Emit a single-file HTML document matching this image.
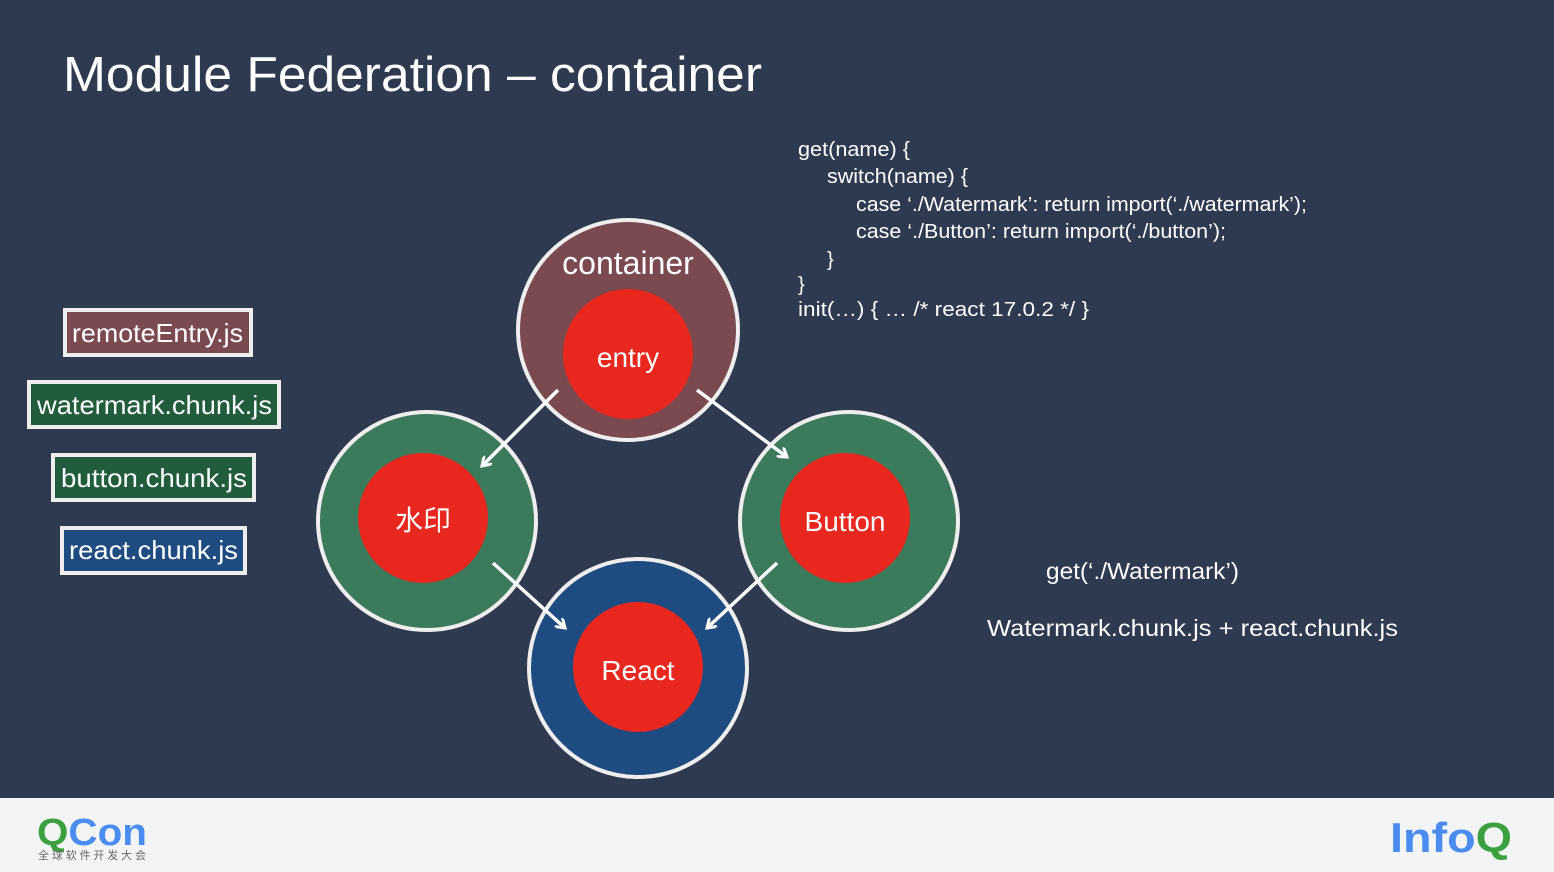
<!DOCTYPE html>
<html><head><meta charset="utf-8"><style>
body{margin:0;width:1554px;height:872px;overflow:hidden;background:#2d3a50;font-family:"Liberation Sans","Noto Sans CJK SC",sans-serif}
</style></head><body>
<svg width="1554" height="872" xmlns="http://www.w3.org/2000/svg" style="position:absolute;left:0;top:0;font-family:'Liberation Sans','Noto Sans CJK SC',sans-serif">
<defs><marker id="a" markerWidth="12" markerHeight="12" refX="9" refY="6" orient="auto" markerUnits="userSpaceOnUse"><path d="M0,0 L9,6 L0,12" fill="none" stroke="#fff" stroke-width="3"/></marker></defs>
<rect width="1554" height="798" fill="#2d3a50"/>
<rect y="798" width="1554" height="74" fill="#f3f4f6"/>
<text x="63" y="91" fill="#fff" font-size="49" textLength="699" lengthAdjust="spacingAndGlyphs">Module Federation – container</text>
<g font-size="20" fill="#fff">
<text x="798" y="156" textLength="112" lengthAdjust="spacingAndGlyphs">get(name) {</text>
<text x="827" y="183" textLength="141" lengthAdjust="spacingAndGlyphs">switch(name) {</text>
<text x="856" y="211" textLength="451" lengthAdjust="spacingAndGlyphs">case ‘./Watermark’: return import(‘./watermark’);</text>
<text x="856" y="238" textLength="370" lengthAdjust="spacingAndGlyphs">case ‘./Button’: return import(‘./button’);</text>
<text x="827" y="266">}</text>
<text x="798" y="291">}</text>
<text x="798" y="316" textLength="291" lengthAdjust="spacingAndGlyphs">init(…) { … /* react 17.0.2 */  }</text>
<text x="1046" y="579" font-size="23" textLength="193" lengthAdjust="spacingAndGlyphs">get(‘./Watermark’)</text>
<text x="987" y="636" font-size="23" textLength="411" lengthAdjust="spacingAndGlyphs">Watermark.chunk.js + react.chunk.js</text>
</g>
<g stroke="#eee" stroke-width="4">
<rect x="65" y="310" width="186" height="45" fill="#7b4a50"/>
<rect x="29" y="382" width="250" height="45" fill="#215c3c"/>
<rect x="53" y="455" width="201" height="45" fill="#215c3c"/>
<rect x="62" y="528" width="183" height="45" fill="#1f4c80"/>
</g>
<g fill="#fff" font-size="26">
<text x="72" y="342" textLength="171" lengthAdjust="spacingAndGlyphs">remoteEntry.js</text>
<text x="37" y="414" textLength="235" lengthAdjust="spacingAndGlyphs">watermark.chunk.js</text>
<text x="61" y="487" textLength="186" lengthAdjust="spacingAndGlyphs">button.chunk.js</text>
<text x="69" y="559" textLength="169" lengthAdjust="spacingAndGlyphs">react.chunk.js</text>
</g>
<g stroke="#eee" stroke-width="4">
<circle cx="628" cy="330" r="110" fill="#7b4a50"/>
<circle cx="427" cy="521" r="109" fill="#3b7a5a"/>
<circle cx="849" cy="521" r="109" fill="#3b7a5a"/>
<circle cx="638" cy="668" r="109" fill="#1f4c80"/>
</g>
<g fill="#e8271f">
<circle cx="628" cy="354" r="65"/>
<circle cx="423" cy="518" r="65"/>
<circle cx="845" cy="518" r="65"/>
<circle cx="638" cy="667" r="65"/>
</g>
<g fill="#fff" font-size="28" text-anchor="middle">
<text x="628" y="274" font-size="32">container</text>
<text x="628" y="367">entry</text>
<text x="423" y="530">水印</text>
<text x="845" y="531">Button</text>
<text x="638" y="680">React</text>
</g>
<g stroke="#fff" stroke-width="3.5" marker-end="url(#a)">
<line x1="558" y1="390" x2="482" y2="466"/>
<line x1="697" y1="390" x2="787" y2="457"/>
<line x1="493" y1="563" x2="565" y2="628"/>
<line x1="777" y1="563" x2="707" y2="628"/>
</g>
<text x="37" y="845" font-size="38" font-weight="bold" fill="#3ca040" textLength="110" lengthAdjust="spacingAndGlyphs">Q<tspan fill="#4a8cf0">Con</tspan></text>
<text x="38" y="859" font-size="11" fill="#666" textLength="108" lengthAdjust="spacing">全球软件开发大会</text>
<text x="1390" y="852" font-size="42" font-weight="bold" fill="#4a8cf0" textLength="122" lengthAdjust="spacingAndGlyphs">Info<tspan fill="#3ca040">Q</tspan></text>
</svg>
</body></html>
